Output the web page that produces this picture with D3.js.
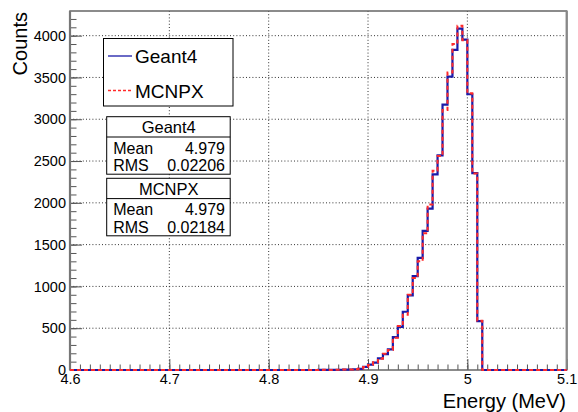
<!DOCTYPE html>
<html>
<head>
<meta charset="utf-8">
<script src="https://cdn.jsdelivr.net/npm/d3@7"></script>
<style>
  body { margin: 0; background: #fff; }
  svg { display: block; font-family: "Liberation Sans", Arial, Helvetica, sans-serif; }
  .axis path { display: none; }
  .axis text { font-size: 14.5px; fill: #000; }
</style>
</head>
<body>
<div id="chart"></div>
<script>
// histogram: 100 bins of 0.005 MeV from 4.6 to 5.1
const binStart = 4.6;
const binWidth = 0.005;

const geant4Counts = [
  0, 0, 0, 0, 0, 0, 0, 0, 0, 0,
  0, 0, 0, 0, 0, 0, 0, 0, 0, 0,
  0, 0, 0, 0, 0, 0, 0, 0, 0, 0,
  0, 0, 0, 0, 0, 0, 0, 0, 0, 0,
  0, 0, 0, 0, 0, 0, 0, 0, 0, 0,
  1, 1, 2, 2, 3, 4, 6, 9, 13, 38,
  64, 88, 139, 191, 247, 394, 517, 697, 892, 1122,
  1341, 1664, 1930, 2340, 2567, 3176, 3510, 3829, 4083, 3952,
  3299, 2356, 585, 0, 0, 0, 0, 0, 0, 0,
  0, 0, 0, 0, 0, 0, 0, 0, 0, 0
];

const mcnpxCounts = [
  0, 0, 0, 0, 0, 0, 0, 0, 0, 0,
  0, 0, 0, 0, 0, 0, 0, 0, 0, 0,
  0, 0, 0, 0, 0, 0, 0, 0, 0, 0,
  0, 0, 0, 0, 0, 0, 0, 0, 0, 0,
  0, 0, 0, 0, 0, 0, 0, 0, 0, 0,
  1, 2, 1, 3, 3, 5, 5, 10, 14, 35,
  60, 92, 135, 195, 240, 385, 525, 660, 900, 1100,
  1300, 1635, 1980, 2385, 2560, 3112, 3560, 3900, 4120, 3945,
  3310, 2350, 590, 0, 0, 0, 0, 0, 0, 0,
  0, 0, 0, 0, 0, 0, 0, 0, 0, 0
];

const xTicks = [4.6, 4.7, 4.8, 4.9, 5.0, 5.1];
const yTicks = [0, 500, 1000, 1500, 2000, 2500, 3000, 3500, 4000];

const legendItems = [
  {name: "Geant4", color: "#1a1aa8", dash: null},
  {name: "MCNPX", color: "#ff2a2a", dash: "3,2"}
];

const statBoxes = [
  {title: "Geant4", mean: "4.979", rms: "0.02206"},
  {title: "MCNPX", mean: "4.979", rms: "0.02184"}
];

const W = 578, H = 412;
const margin = {top: 11, right: 11.3, bottom: 42, left: 70};
const width = W - margin.left - margin.right;
const height = H - margin.top - margin.bottom;

const svg = d3.select("#chart").append("svg")
  .attr("width", W).attr("height", H);
const g = svg.append("g")
  .attr("transform", `translate(${margin.left},${margin.top})`);

const x = d3.scaleLinear().domain([4.6, 5.1]).range([0, width]);
const y = d3.scaleLinear().domain([0, 4295]).range([height, 0]);

// grid
const gridStyle = sel => sel.attr("stroke", "#333").attr("stroke-width", 1)
  .attr("stroke-dasharray", "1,2.2");
g.append("g").selectAll("line")
  .data(xTicks.slice(1, -1)).enter().append("line")
  .attr("x1", d => x(d)).attr("x2", d => x(d))
  .attr("y1", 0).attr("y2", height)
  .call(gridStyle);
g.append("g").selectAll("line")
  .data(yTicks.slice(1)).enter().append("line")
  .attr("x1", 0).attr("x2", width)
  .attr("y1", d => y(d)).attr("y2", d => y(d))
  .call(gridStyle);

// axes, ticks inside
const xMinor = d3.range(0, 51).map(i => 4.6 + i * 0.01);
const yMinor = d3.range(0, 43).map(i => i * 100);

g.append("g").attr("class", "axis")
  .attr("transform", `translate(0,${height})`)
  .call(d3.axisBottom(x).tickValues(xMinor).tickSize(-5.5).tickFormat(""))
  .selectAll("line").attr("stroke", "#555");
g.append("g").attr("class", "axis")
  .attr("transform", `translate(0,${height})`)
  .call(d3.axisBottom(x).tickValues(xTicks).tickSize(-11).tickPadding(3.5)
    .tickFormat(d => String(+d.toFixed(1))))
  .call(a => a.selectAll("line").attr("stroke", "#555"));

g.append("g").attr("class", "axis")
  .call(d3.axisLeft(y).tickValues(yMinor).tickSize(-6.5).tickFormat(""))
  .selectAll("line").attr("stroke", "#555");
g.append("g").attr("class", "axis")
  .call(d3.axisLeft(y).tickValues(yTicks).tickSize(-12).tickPadding(4)
    .tickFormat(d3.format("d")))
  .call(a => a.selectAll("line").attr("stroke", "#555"));

// frame
g.append("rect")
  .attr("width", width).attr("height", height)
  .attr("fill", "none").attr("stroke", "#666").attr("stroke-width", 1.5);
g.append("line").attr("x1", 0).attr("x2", 0).attr("y1", 0).attr("y2", height)
  .attr("stroke", "#777").attr("stroke-width", 2.2);
g.append("line").attr("x1", width).attr("x2", width).attr("y1", 0).attr("y2", height)
  .attr("stroke", "#888").attr("stroke-width", 2.2);

// histograms as steps
const stepLine = d3.line()
  .x(d => x(d.edge)).y(d => y(d.count))
  .curve(d3.curveStepAfter);
function toSteps(counts) {
  const pts = counts.map((c, i) => ({edge: binStart + i * binWidth, count: c}));
  pts.push({edge: binStart + counts.length * binWidth, count: counts[counts.length - 1]});
  return pts;
}

g.append("path")
  .datum(toSteps(geant4Counts))
  .attr("d", stepLine)
  .attr("fill", "none")
  .attr("stroke", legendItems[0].color)
  .attr("stroke-width", 2.2);
g.append("path")
  .datum(toSteps(mcnpxCounts))
  .attr("d", stepLine)
  .attr("fill", "none")
  .attr("stroke", legendItems[1].color)
  .attr("stroke-width", 2)
  .attr("stroke-dasharray", "4,3");

// axis titles
svg.append("text")
  .attr("transform", "translate(27,12) rotate(-90)")
  .attr("text-anchor", "end")
  .style("font-size", "20px")
  .text("Counts");
svg.append("text")
  .attr("x", 566).attr("y", 408)
  .attr("text-anchor", "end")
  .style("font-size", "20px")
  .text("Energy (MeV)");

// legend
const leg = svg.append("g");
leg.append("rect")
  .attr("x", 103.5).attr("y", 38.5).attr("width", 129.5).attr("height", 67.5)
  .attr("fill", "#fff").attr("stroke", "#000").attr("stroke-width", 1);
legendItems.forEach((item, i) => {
  const ly = 56 + i * 34.5;
  leg.append("line")
    .attr("x1", 108).attr("x2", 132).attr("y1", ly).attr("y2", ly)
    .attr("stroke", item.color).attr("stroke-width", 1.3)
    .attr("stroke-dasharray", item.dash);
  leg.append("text")
    .attr("x", 135).attr("y", ly + 7)
    .style("font-size", "19px")
    .text(item.name);
});

// stat boxes
statBoxes.forEach((s, i) => {
  const top = i === 0 ? 116.7 : 178.3;
  const sb = svg.append("g").attr("transform", `translate(106.7,${top})`);
  sb.append("rect")
    .attr("width", 123.5).attr("height", 57.5)
    .attr("fill", "#fff").attr("stroke", "#000").attr("stroke-width", 1);
  sb.append("line")
    .attr("x1", 0).attr("x2", 123.5).attr("y1", 20.3).attr("y2", 20.3)
    .attr("stroke", "#000").attr("stroke-width", 1);
  sb.append("text")
    .attr("x", 62).attr("y", 16.3).attr("text-anchor", "middle")
    .style("font-size", "16.5px").text(s.title);
  [["Mean", s.mean], ["RMS", s.rms]].forEach((r, j) => {
    const by = 37 + j * 17.7;
    sb.append("text").attr("x", 6.5).attr("y", by)
      .style("font-size", "16px").text(r[0]);
    sb.append("text").attr("x", 118.3).attr("y", by).attr("text-anchor", "end")
      .style("font-size", "16px").text(r[1]);
  });
});
</script>
</body>
</html>
